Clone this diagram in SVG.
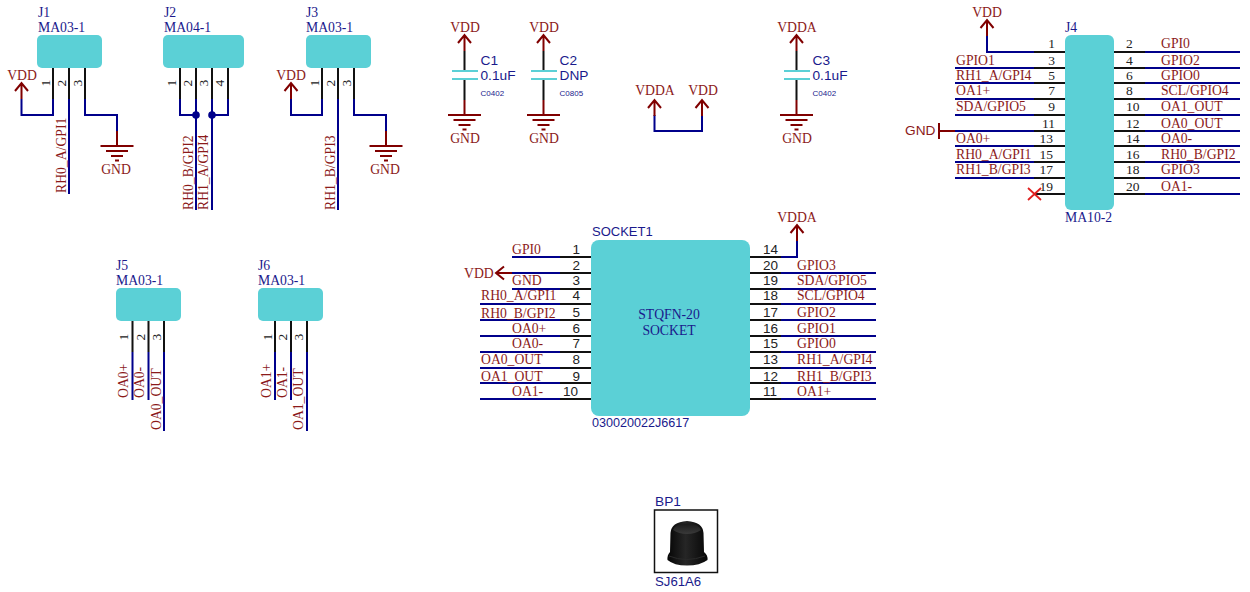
<svg xmlns="http://www.w3.org/2000/svg" width="1250" height="592" viewBox="0 0 1250 592">
<defs>
<style>
text{font-family:"Liberation Serif","Times New Roman",serif;font-size:13.7px;fill:#8b1a1a}
.s{font-family:"Liberation Sans",Arial,sans-serif}
.b{fill:#1a1a8c}
.n{fill:#222;font-size:13.5px}
.m{text-anchor:middle}
.e{text-anchor:end}
.tiny{font-size:8px}
.body{fill:#5bd0d6}
.pin{stroke:#111;stroke-width:2;fill:none}
.w{stroke:#00008b;stroke-width:2;fill:none;stroke-linejoin:miter}
.r{stroke:#800000;stroke-width:2;fill:none}
.cap{stroke:#5bd0d6;stroke-width:2;fill:none}
</style>
<linearGradient id="knob" x1="0" y1="0" x2="1" y2="0"><stop offset="0" stop-color="#050505"/><stop offset="0.45" stop-color="#262626"/><stop offset="1" stop-color="#060606"/></linearGradient>
<linearGradient id="cap" x1="0" y1="0" x2="0" y2="1"><stop offset="0" stop-color="#1a1a1a"/><stop offset="1" stop-color="#3a3a3a"/></linearGradient>
<g id="up"><path class="r" d="M-6.500 8L0 0L6.500 8M0 0V16"/></g>
<g id="gnd"><path class="r" d="M0 -15V0M-16.500 0H16.500M-11 5H11M-6 10H6M-2 14.500H2"/></g>
</defs>
<g id="connectors">
<path class="w" d="M53 99V115H21.500V99M69 99V194M85 99V115H117V131"/>
<path class="w" d="M180 99V115H196M196 99V210M212 99V210M228 99V115H212"/>
<path class="w" d="M322 99V115H291V99M338 99V210M354 99V115H386V131"/>
<path class="w" d="M132.500 352V400M148.500 352V400M164 352V431M275 352V400M291 352V400M307 352V431"/>
<path class="w" d="M654.500 115V131H702V115"/>
<path class="w" d="M987 36V52H1034M955 68H1034M955 83H1034M955 99H1034M955 115H1034M955 146H1034M955 162H1034M955 178H1034M1145 52H1240M1145 68H1240M1145 83H1240M1145 99H1240M1145 115H1240M1145 131H1240M1145 146H1240M1145 162H1240M1145 178H1240M1145 194H1240"/>
<path class="w" d="M955 131H1034"/>
<path class="w" d="M512 257H560M512 273H560M512 289H560M480 304H560M480 320H560M480 336H560M480 352H560M480 368H560M480 383H560M480 399H560M781 257H797V241M781 273H876M781 289H876M781 304H876M781 320H876M781 336H876M781 352H876M781 368H876M781 383H876M781 399H876"/>
<circle cx="196" cy="115" r="3.800" fill="#00008b"/>
<circle cx="212" cy="115" r="3.800" fill="#00008b"/>
</g>
<g id="J1">
<rect class="body" x="37" y="35" width="65" height="33" rx="5"/>
<path class="pin" d="M53 68V99M69 68V99M85 68V99"/>
<text class="b" x="38" y="17">J1</text><text class="b" x="38" y="32">MA03-1</text>
<text class="n" transform="translate(50 83) rotate(-90)" text-anchor="middle">1</text>
<text class="n" transform="translate(66 83) rotate(-90)" text-anchor="middle">2</text>
<text class="n" transform="translate(82 83) rotate(-90)" text-anchor="middle">3</text>
<use href="#up" x="21.500" y="83"/><text class="m" x="22" y="80">VDD</text>
<text transform="translate(66 193) rotate(-90)">RH0_A/GPI1</text>
<use href="#gnd" x="117" y="146"/><text class="m" x="116" y="174">GND</text>
</g>
<g id="J2">
<rect class="body" x="163" y="35" width="81" height="33" rx="5"/>
<path class="pin" d="M180 68V99M196 68V99M212 68V99M228 68V99"/>
<text class="b" x="164" y="17">J2</text><text class="b" x="164" y="32">MA04-1</text>
<text class="n" transform="translate(176 83) rotate(-90)" text-anchor="middle">1</text>
<text class="n" transform="translate(192 83) rotate(-90)" text-anchor="middle">2</text>
<text class="n" transform="translate(208 83) rotate(-90)" text-anchor="middle">3</text>
<text class="n" transform="translate(224 83) rotate(-90)" text-anchor="middle">4</text>
<text transform="translate(193 210) rotate(-90)">RH0_B/GPI2</text>
<text transform="translate(208 210) rotate(-90)">RH1_A/GPI4</text>
</g>
<g id="J3">
<rect class="body" x="306" y="35" width="65" height="33" rx="5"/>
<path class="pin" d="M322 68V99M338 68V99M354 68V99"/>
<text class="b" x="306" y="17">J3</text><text class="b" x="306" y="32">MA03-1</text>
<text class="n" transform="translate(319 83) rotate(-90)" text-anchor="middle">1</text>
<text class="n" transform="translate(335 83) rotate(-90)" text-anchor="middle">2</text>
<text class="n" transform="translate(351 83) rotate(-90)" text-anchor="middle">3</text>
<use href="#up" x="291" y="83"/><text class="m" x="291" y="80">VDD</text>
<text transform="translate(335 210) rotate(-90)">RH1_B/GPI3</text>
<use href="#gnd" x="386" y="146"/><text class="m" x="385" y="174">GND</text>
</g>
<g id="J5">
<rect class="body" x="116" y="288" width="65" height="33" rx="5"/>
<path class="pin" d="M132.500 321V352M148.500 321V352M164 321V352"/>
<text class="b" x="116" y="270">J5</text><text class="b" x="116" y="285">MA03-1</text>
<text class="n" transform="translate(128 337) rotate(-90)" text-anchor="middle">1</text>
<text class="n" transform="translate(145 337) rotate(-90)" text-anchor="middle">2</text>
<text class="n" transform="translate(161 337) rotate(-90)" text-anchor="middle">3</text>
<text transform="translate(128 398) rotate(-90)">OA0+</text>
<text transform="translate(144 398) rotate(-90)">OA0-</text>
<text transform="translate(161 430) rotate(-90)">OA0_OUT</text>
</g>
<g id="J6">
<rect class="body" x="258" y="288" width="65" height="33" rx="5"/>
<path class="pin" d="M275 321V352M291 321V352M307 321V352"/>
<text class="b" x="258" y="270">J6</text><text class="b" x="258" y="285">MA03-1</text>
<text class="n" transform="translate(272 337) rotate(-90)" text-anchor="middle">1</text>
<text class="n" transform="translate(287 337) rotate(-90)" text-anchor="middle">2</text>
<text class="n" transform="translate(303 337) rotate(-90)" text-anchor="middle">3</text>
<text transform="translate(271 398) rotate(-90)">OA1+</text>
<text transform="translate(287 398) rotate(-90)">OA1-</text>
<text transform="translate(303 430) rotate(-90)">OA1_OUT</text>
</g>
<g id="C1">
<use href="#up" x="464.500" y="35"/>
<path class="pin" d="M464.500 51V71M464.500 79V100"/>
<path class="cap" d="M452 71H478M452 79H478"/>
<use href="#gnd" x="464.500" y="115"/>
<text class="m" x="465" y="32">VDD</text><text class="m" x="465" y="143">GND</text>
<text class="s b" x="480.500" y="65">C1</text><text class="s b" x="480.500" y="80">0.1uF</text><text class="s b tiny" x="480.500" y="96">C0402</text>
</g>
<g id="C2">
<use href="#up" x="543.500" y="35"/>
<path class="pin" d="M543.500 51V71M543.500 79V100"/>
<path class="cap" d="M531 71H557M531 79H557"/>
<use href="#gnd" x="543.500" y="115"/>
<text class="m" x="544" y="32">VDD</text><text class="m" x="544" y="143">GND</text>
<text class="s b" x="559.500" y="65">C2</text><text class="s b" x="559.500" y="80">DNP</text><text class="s b tiny" x="559.500" y="96">C0805</text>
</g>
<g id="C3">
<use href="#up" x="796.500" y="35"/>
<path class="pin" d="M796.500 51V71M796.500 79V100"/>
<path class="cap" d="M784 71H810M784 79H810"/>
<use href="#gnd" x="796.500" y="115"/>
<text class="m" x="797" y="32">VDDA</text><text class="m" x="797" y="143">GND</text>
<text class="s b" x="812.500" y="65">C3</text><text class="s b" x="812.500" y="80">0.1uF</text><text class="s b tiny" x="812.500" y="96">C0402</text>
</g>
<g id="PWR">
<use href="#up" x="654.500" y="100"/><use href="#up" x="702" y="100"/>
<text class="m" x="655" y="95">VDDA</text><text class="m" x="703" y="95">VDD</text>
</g>
<g id="J4">
<rect class="body" x="1065" y="35" width="49" height="175" rx="6"/>
<path class="pin" d="M1034 52H1065M1034 68H1065M1034 83H1065M1034 99H1065M1034 115H1065M1034 131H1065M1034 146H1065M1034 162H1065M1034 178H1065M1034 194H1065M1114 52H1145M1114 68H1145M1114 83H1145M1114 99H1145M1114 115H1145M1114 131H1145M1114 146H1145M1114 162H1145M1114 178H1145M1114 194H1145"/>
<text class="b" x="1065" y="32">J4</text><text class="b" x="1065" y="222">MA10-2</text>
<use href="#up" x="987" y="20"/><text class="m" x="987" y="17">VDD</text>
<path class="r" d="M939 123V139M939 131H955"/><text class="s" x="905" y="135">GND</text>
<path d="M1028 188L1041 200M1041 188L1028 200" stroke="#e02020" stroke-width="1.800" fill="none"/>
<text class="n e" x="1055" y="48">1</text><text class="n e" x="1055" y="65">3</text><text class="n e" x="1055" y="80">5</text><text class="n e" x="1055" y="95">7</text><text class="n e" x="1055" y="111">9</text><text class="n e" x="1055" y="128">11</text><text class="n e" x="1053" y="143">13</text><text class="n e" x="1053" y="159">15</text><text class="n e" x="1053" y="174">17</text><text class="n e" x="1053" y="191">19</text>
<text class="n" x="1126" y="48">2</text><text class="n" x="1126" y="65">4</text><text class="n" x="1126" y="80">6</text><text class="n" x="1126" y="95">8</text><text class="n" x="1126" y="111">10</text><text class="n" x="1126" y="128">12</text><text class="n" x="1126" y="143">14</text><text class="n" x="1126" y="159">16</text><text class="n" x="1126" y="174">18</text><text class="n" x="1126" y="191">20</text>
<text x="956" y="65">GPIO1</text><text x="956" y="80">RH1_A/GPI4</text><text x="956" y="95">OA1+</text><text x="956" y="111">SDA/GPIO5</text><text x="956" y="143">OA0+</text><text x="956" y="159">RH0_A/GPI1</text><text x="956" y="174">RH1_B/GPI3</text>
<text x="1161" y="48">GPI0</text><text x="1161" y="65">GPIO2</text><text x="1161" y="80">GPIO0</text><text x="1161" y="95">SCL/GPIO4</text><text x="1161" y="111">OA1_OUT</text><text x="1161" y="128">OA0_OUT</text><text x="1161" y="143">OA0-</text><text x="1161" y="159">RH0_B/GPI2</text><text x="1161" y="174">GPIO3</text><text x="1161" y="191">OA1-</text>
</g>
<g id="SOCKET1">
<rect class="body" x="591" y="240" width="159" height="176" rx="8"/>
<path class="pin" d="M560 257H591M560 273H591M560 289H591M560 304H591M560 320H591M560 336H591M560 352H591M560 368H591M560 383H591M560 399H591M750 257H781M750 273H781M750 289H781M750 304H781M750 320H781M750 336H781M750 352H781M750 368H781M750 383H781M750 399H781"/>
<text class="s b" x="592" y="236" style="font-size:13px">SOCKET1</text><text class="s b" x="592" y="427" style="font-size:12.6px">030020022J6617</text>
<text class="b m" x="669" y="319">STQFN-20</text><text class="b m" x="669" y="335">SOCKET</text>
<use href="#up" x="797" y="225"/><text class="m" x="797" y="222">VDDA</text>
<path class="r" d="M504 266.500L496 273L504 279.500M496 273H512"/><text x="464" y="278">VDD</text>
<text class="s n e" x="580" y="254">1</text><text class="s n e" x="580" y="270">2</text><text class="s n e" x="580" y="285">3</text><text class="s n e" x="580" y="300">4</text><text class="s n e" x="580" y="317">5</text><text class="s n e" x="580" y="333">6</text><text class="s n e" x="580" y="348">7</text><text class="s n e" x="580" y="364">8</text><text class="s n e" x="580" y="381">9</text><text class="s n e" x="578" y="396">10</text>
<text class="s n" x="763" y="254">14</text><text class="s n" x="763" y="270">20</text><text class="s n" x="763" y="285">19</text><text class="s n" x="763" y="300">18</text><text class="s n" x="763" y="317">17</text><text class="s n" x="763" y="333">16</text><text class="s n" x="763" y="348">15</text><text class="s n" x="763" y="364">13</text><text class="s n" x="763" y="381">12</text><text class="s n" x="763" y="396">11</text>
<text x="512" y="254">GPI0</text><text x="512" y="285">GND</text><text x="481" y="300">RH0_A/GPI1</text><text x="481" y="318">RH0_B/GPI2</text><text x="512" y="333">OA0+</text><text x="512" y="348">OA0-</text><text x="481" y="364">OA0_OUT</text><text x="481" y="381">OA1_OUT</text><text x="512" y="396">OA1-</text>
<text x="797" y="270">GPIO3</text><text x="797" y="285">SDA/GPIO5</text><text x="797" y="300">SCL/GPIO4</text><text x="797" y="317">GPIO2</text><text x="797" y="333">GPIO1</text><text x="797" y="348">GPIO0</text><text x="797" y="364">RH1_A/GPI4</text><text x="797" y="381">RH1_B/GPI3</text><text x="797" y="396">OA1+</text>
</g>
<g id="BP1">
<rect x="654.500" y="510" width="63" height="62.500" fill="#fff" stroke="#111" stroke-width="1.500"/>
<path d="M670 552L670.500 533Q671 522 687 521Q703 522 703.500 533L704 552Q708 555 707.500 560Q700 565.500 687 565.500Q674 565.500 667.500 560Q667 555 670 552Z" fill="url(#knob)"/>
<path d="M673 530Q675 524 687 523.500Q699 524 701 530Q695 534 687 534Q679 534 673 530Z" fill="url(#cap)"/>
<path d="M669 556Q686 563 705 556" stroke="#2a2a2a" stroke-width="1" fill="none"/>
<text class="s b" x="655" y="506">BP1</text>
<text class="s b" x="655" y="586" style="font-size:13.2px">SJ61A6</text>
</g>
</svg>
